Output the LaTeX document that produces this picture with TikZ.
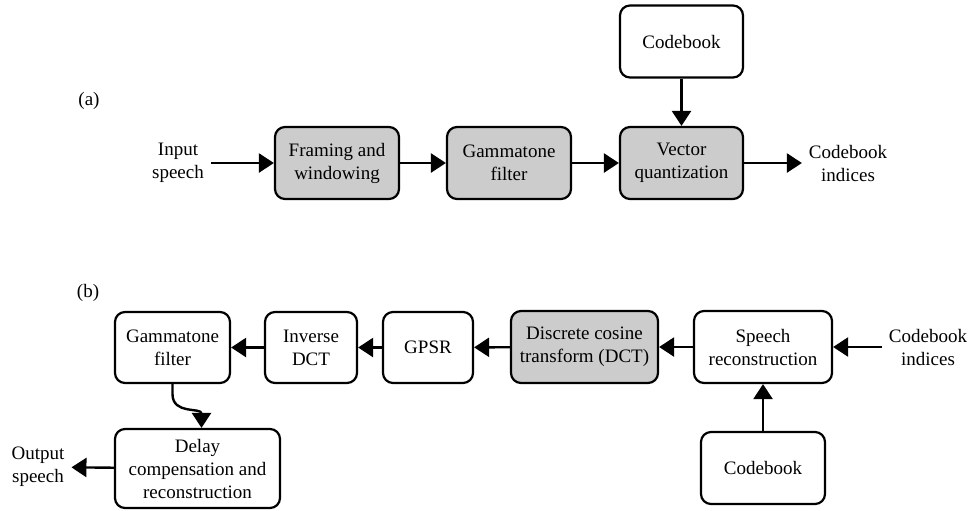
\documentclass[tikz,border=0pt]{standalone}
\usepackage{fontspec}
\setmainfont{LiberationSerif}[Extension=.ttf,UprightFont=*-Regular,BoldFont=*-Bold,ItalicFont=*-Italic]
\usetikzlibrary{arrows.meta,positioning}

\begin{document}
\begin{tikzpicture}[x=0.5pt,y=-0.5pt,>={Triangle[length=7.5pt,width=9.5pt]},
  font=\fontsize{9.5}{11.5}\selectfont,
  blk/.style={draw,line width=1.1pt,rounded corners=5pt,align=center,minimum width=62pt,minimum height=36pt},
  shaded/.style={blk,fill=black!20},
  lbl/.style={align=center},
  flow/.style={->,line width=1.2pt}]
  \useasboundingbox (0,0) rectangle (972,510);

  % (a) encoder side
  \node (la) at (89,101) {(a)};
  \node[lbl] (in) at (178,163) {Input\\speech};
  \node[shaded] (frame) at (337,163) {Framing and\\windowing};
  \node[shaded] (gam) at (509,163) {Gammatone\\filter};
  \node[shaded,minimum width=61.5pt] (vq) at (681.5,163) {Vector\\quantization};
  \node[blk,minimum width=61.5pt] (cb) at (681.5,41.5) {Codebook};
  \node[lbl] (idx) at (848,163) {Codebook\\indices};
  \draw[flow] (in) -- (frame);
  \draw[flow] (frame) -- (gam);
  \draw[flow] (gam) -- (vq);
  \draw[flow] (cb) -- (vq);
  \draw[flow] (vq) -- (idx);

  % (b) decoder side
  \node (lb) at (88,293) {(b)};
  \node[blk,minimum width=57.5pt,minimum height=35.5pt] (gam2) at (172.5,347.5) {Gammatone\\filter};
  \node[blk,minimum width=46pt,minimum height=35.5pt] (idct) at (311,347.5) {Inverse\\DCT};
  \node[blk,minimum width=45pt,minimum height=35.5pt] (gpsr) at (428,347.5) {GPSR};
  \node[shaded,minimum width=73.5pt] (dct) at (584.5,347) {Discrete cosine\\transform (DCT)};
  \node[blk,minimum width=69pt] (sr) at (763,347) {Speech\\reconstruction};
  \node[lbl] (idx2) at (928,347) {Codebook\\indices};
  \node[blk] (cb2) at (763,468) {Codebook};
  \node[blk,minimum width=82.5pt,minimum height=39.5pt] (delay) at (197.5,468.5) {Delay\\compensation and\\reconstruction};
  \node[lbl] (out) at (38,467) {Output\\speech};
  \draw[flow] (idx2) -- (sr);
  \draw[flow] (cb2) -- (sr);
  \draw[flow] (sr) -- (dct);
  \draw[flow] (dct) -- (gpsr);
  \draw[flow] (gpsr) -- (idct);
  \draw[flow] (idct) -- (gam2);
  \draw[flow] (gam2.south) -- ++(0,10) to[out=-90,in=90,looseness=1.2] ([xshift=2pt]delay.north);
  \draw[flow] (delay) -- (out);
\end{tikzpicture}
\end{document}
